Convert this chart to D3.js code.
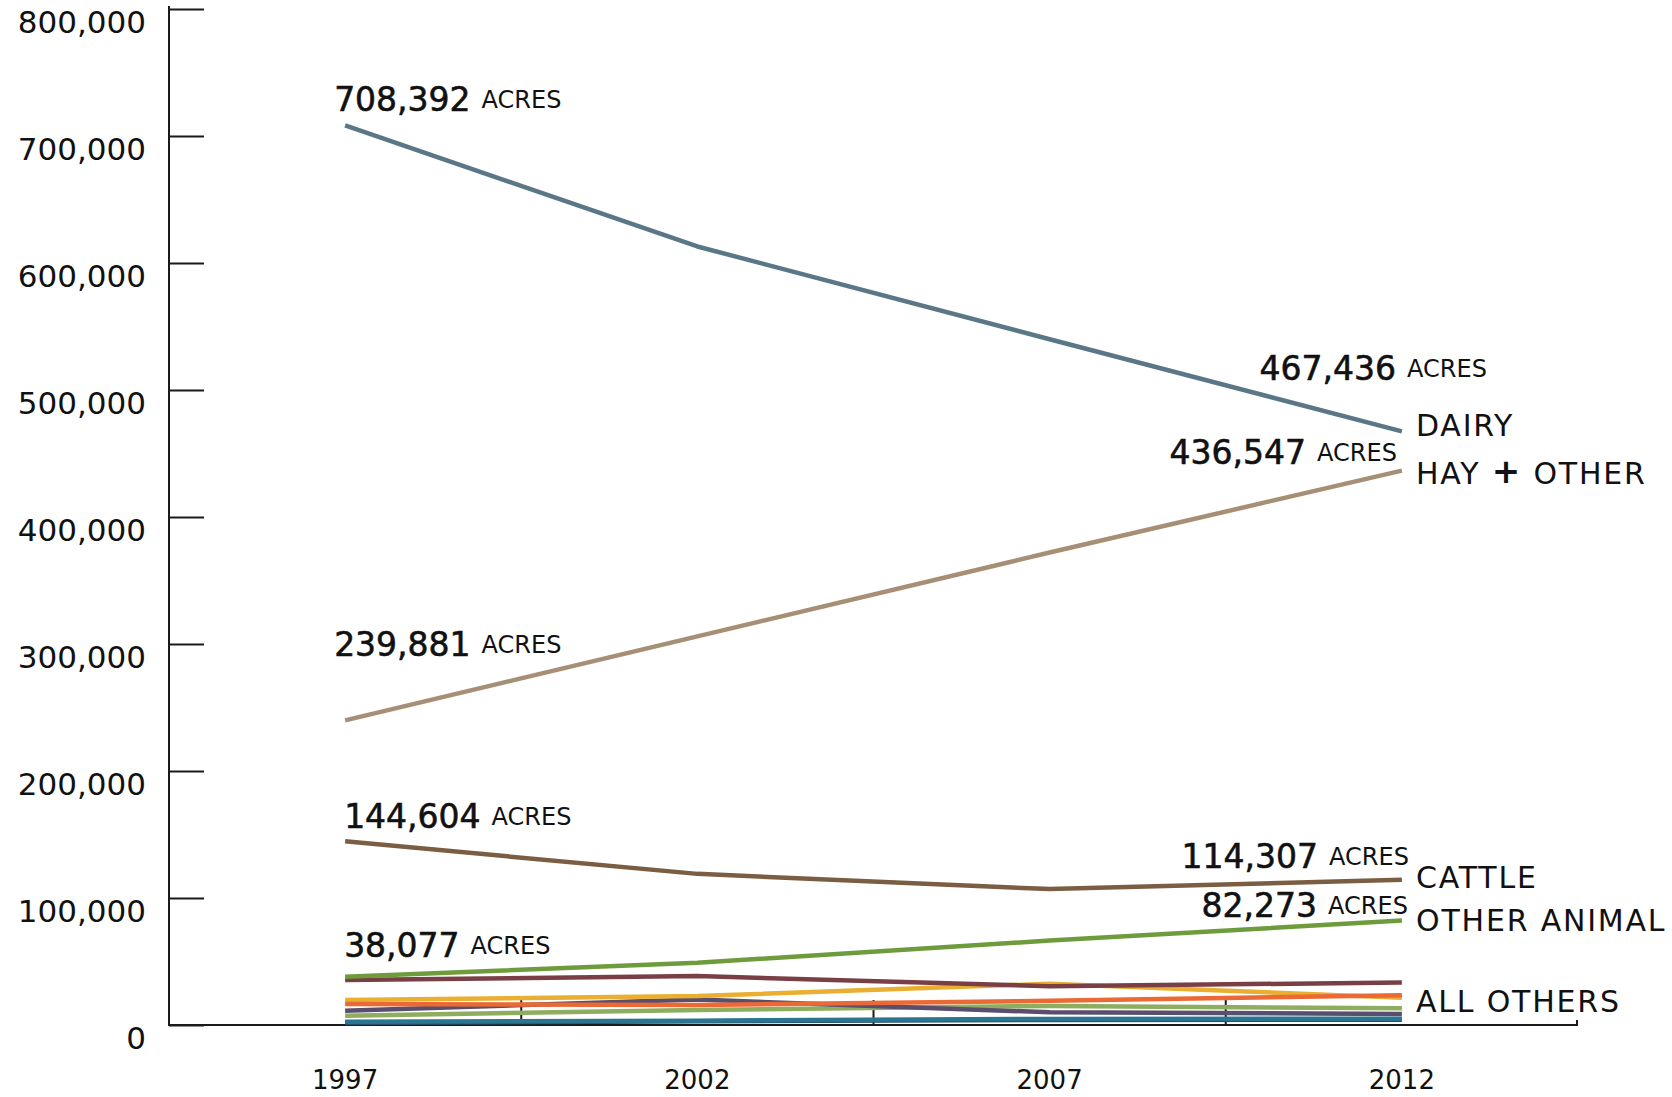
<!DOCTYPE html>
<html><head><meta charset="utf-8">
<script src="https://cdn.jsdelivr.net/npm/d3@7"></script>
<style>
html,body{margin:0;padding:0;background:#fff;}
text{font-family:"DejaVu Sans",sans-serif;fill:#111;}
</style></head>
<body>
<svg id="chart" width="1672" height="1097"></svg>
<script>
// ---- data ----
const years = ["1997", "2002", "2007", "2012"];
const yTicks = [0, 100000, 200000, 300000, 400000, 500000, 600000, 700000, 800000];
const dairy       = [708392, 613000, 540000, 467436];
const hayOther    = [239881, 306000, 372000, 436547];
const cattle      = [144604, 119000, 107000, 114307];
const otherAnimal = [38077, 49000, 66500, 82273];
const maroon      = [35500, 38500, 30500, 33500];
const yellow      = [19700, 22800, 32500, 21500];
const orange      = [16500, 15700, 19000, 23500];
const lightGreen  = [7300, 11800, 15000, 13100];
const purple      = [11300, 20000, 10000, 8700];
const navy        = [1500, 3000, 4000, 4200];
const teal        = [2600, 3400, 4800, 5000];
const seriesNames = ["Dairy", "Hay + Other", "Cattle", "Other Animal", "maroon", "yellow", "orange", "lightGreen", "purple", "navy", "teal"];

const series = [
  {name:"lightGreen", values:lightGreen, color:"#8fad5e"},
  {name:"purple", values:purple, color:"#594e6e"},
  {name:"navy", values:navy, color:"#234f6b"},
  {name:"teal", values:teal, color:"#2a7690"},
  {name:"yellow", values:yellow, color:"#eaae31"},
  {name:"orange", values:orange, color:"#ea6934"},
  {name:"maroon", values:maroon, color:"#7a3f45"},
  {name:"Other Animal", values:otherAnimal, color:"#6e9c3c"},
  {name:"Cattle", values:cattle, color:"#7a5d42"},
  {name:"Hay + Other", values:hayOther, color:"#a78f76"},
  {name:"Dairy", values:dairy, color:"#5a7788"}
];

const svg = d3.select("#chart");
const x = d3.scaleBand().domain(years).range([169, 1578]).padding(0);
const y = d3.scaleLinear().domain([0, 800000]).range([1025, 9]);
const cx = yr => x(yr) + x.bandwidth()/2;

// y axis
const yAxis = svg.append("g").attr("transform","translate(169,0)")
  .call(d3.axisRight(y).tickValues(yTicks).tickSize(35).tickFormat(""));
yAxis.select(".domain").remove();
yAxis.selectAll(".tick line").attr("stroke","#1a1a1a").attr("stroke-width",2);
svg.append("line").attr("x1",169).attr("x2",169).attr("y1",6).attr("y2",1026)
  .attr("stroke","#1a1a1a").attr("stroke-width",2);
svg.append("g").selectAll("text").data(yTicks).join("text")
  .attr("x",146).attr("y",d=>y(d)+15).attr("text-anchor","end")
  .attr("dominant-baseline","middle").attr("font-size",31)
  .text(d=>d3.format(",")(d));

// x axis
svg.append("line").attr("x1",168).attr("x2",1578).attr("y1",1025).attr("y2",1025)
  .attr("stroke","#1a1a1a").attr("stroke-width",2);
svg.append("g").selectAll("line").data(years.slice(1)).join("line")
  .attr("x1",d=>x(d)).attr("x2",d=>x(d)).attr("y1",1000).attr("y2",1025)
  .attr("stroke","#1a1a1a").attr("stroke-width",2);
svg.append("line").attr("x1",1577).attr("x2",1577).attr("y1",1020).attr("y2",1025)
  .attr("stroke","#1a1a1a").attr("stroke-width",2);
svg.append("g").selectAll("text").data(years).join("text")
  .attr("x",d=>cx(d)).attr("y",1081).attr("text-anchor","middle")
  .attr("dominant-baseline","middle").attr("font-size",26).text(d=>d);

// lines
const line = d3.line().x((d,i)=>cx(years[i])).y(d=>y(d));
svg.append("g").selectAll("path").data(series).join("path")
  .attr("d",d=>line(d.values)).attr("fill","none")
  .attr("stroke",d=>d.color).attr("stroke-width",4.5)
  .attr("stroke-linejoin","round");

// value annotations
const annots = [
  {s:dairy, i:0, dx:-11, dy:-24, anchor:"start"},
  {s:dairy, i:3, dx:85, dy:-61, anchor:"end"},
  {s:hayOther, i:0, dx:-11, dy:-74, anchor:"start"},
  {s:hayOther, i:3, dx:-5, dy:-17, anchor:"end"},
  {s:cattle, i:0, dx:-1, dy:-23, anchor:"start"},
  {s:cattle, i:3, dx:7, dy:-22, anchor:"end"},
  {s:otherAnimal, i:0, dx:-1, dy:-30, anchor:"start"},
  {s:otherAnimal, i:3, dx:6, dy:-14, anchor:"end"}
];
annots.forEach(a=>{
  const t = svg.append("text").attr("x",cx(years[a.i])+a.dx).attr("y",y(a.s[a.i])+a.dy)
    .attr("text-anchor",a.anchor).attr("dominant-baseline","middle");
  t.append("tspan").attr("font-size",33).attr("stroke","#111").attr("stroke-width",0.6)
    .text(d3.format(",")(a.s[a.i]));
  t.append("tspan").attr("font-size",24).attr("dx",11).text("ACRES");
});

// category labels
const catLabels = [
  {text:["DAIRY"], s:dairy, dy:-4},
  {text:["HAY ", "+", " OTHER"], s:hayOther, dy:4},
  {text:["CATTLE"], s:cattle, dy:-1},
  {text:["OTHER ANIMAL"], s:otherAnimal, dy:1},
  {text:["ALL OTHERS"], s:lightGreen, dy:-5}
];
catLabels.forEach(c=>{
  const t = svg.append("text").attr("x",1416).attr("y",y(c.s[3])+c.dy)
    .attr("dominant-baseline","middle").attr("font-size",30)
    .attr("letter-spacing",1.8);
  c.text.forEach(p=>{
    const sp = t.append("tspan").text(p);
    if(p==="+") sp.attr("font-weight","bold").attr("font-size",34).attr("dy",-2);
    else if(p===" OTHER") sp.attr("dy",2);
  });
});
</script>
</body></html>
